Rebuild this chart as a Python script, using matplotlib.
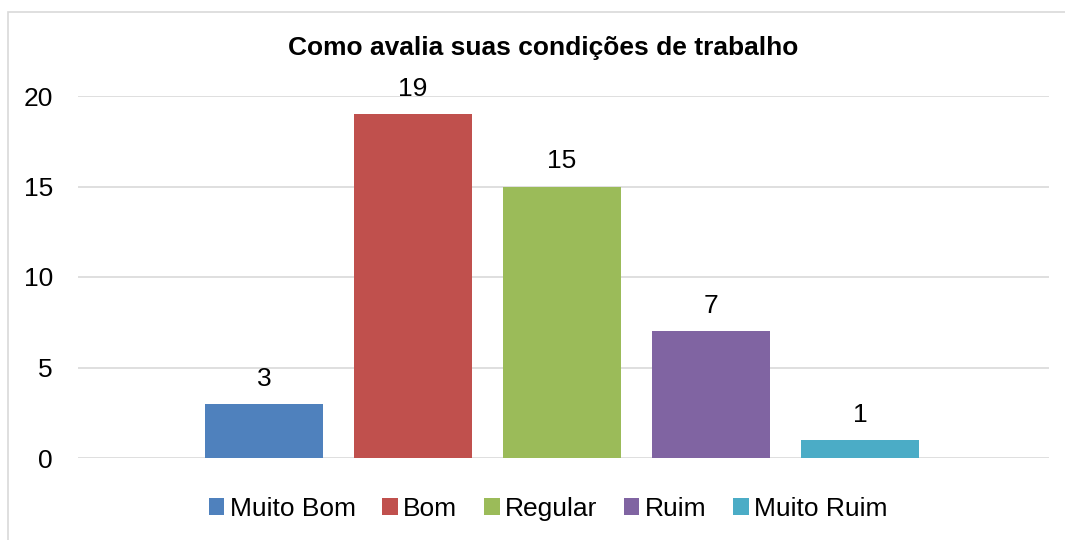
import matplotlib
matplotlib.use("Agg")
from matplotlib import pyplot as plt
from matplotlib.patches import Rectangle

categories = ["Muito Bom", "Bom", "Regular", "Ruim", "Muito Ruim"]
values = [3, 19, 15, 7, 1]
colors = ["#4F81BD", "#C0504D", "#9BBB59", "#8064A2", "#4BACC6"]
yticks = [0, 5, 10, 15, 20]

plt.rcParams['font.family'] = ['Liberation Sans', 'DejaVu Sans']

fig = plt.figure(figsize=(10.65, 5.4), dpi=100)
ax = fig.add_axes([78 / 1065, 1 - 458 / 540, (1049 - 78) / 1065, (458 - 96) / 540])

# chart border (right and bottom edges are cut off in the original)
fig.patches.append(Rectangle((8 / 1065, -0.1), 1.2, 1 - 12 / 540 + 0.1,
                             transform=fig.transFigure, fill=False,
                             edgecolor="#D9D9D9", linewidth=1.2))

xs = list(range(len(categories)))
bars = ax.bar(xs, values, width=0.79, color=colors, label=categories, zorder=3)

for x, v in zip(xs, values):
    ax.annotate(str(v), (x, v), xytext=(0, 18), textcoords="offset points",
                ha="center", va="center", fontsize=19)

ax.set_xlim(-1.25, 5.27)
ax.set_ylim(0, 20)
ax.set_yticks(yticks)
ax.yaxis.grid(True, color="#D9D9D9", linewidth=1.2, zorder=0)
ax.set_xticks([])
ax.tick_params(axis="y", length=0, labelsize=19, pad=18)
for s in ax.spines.values():
    s.set_visible(False)

fig.text(543 / 1065, 1 - 48 / 540, "Como avalia suas condições de trabalho",
         ha="center", va="center", fontsize=19, fontweight="bold")

fig.legend(bars, categories, loc="center", bbox_to_anchor=(548 / 1065, 1 - 509 / 540),
           ncol=5, frameon=False, fontsize=19, handlelength=0.6, handleheight=0.6,
           handletextpad=0.2, columnspacing=1.0, borderaxespad=0)

fig.savefig("out.png", dpi=100)
